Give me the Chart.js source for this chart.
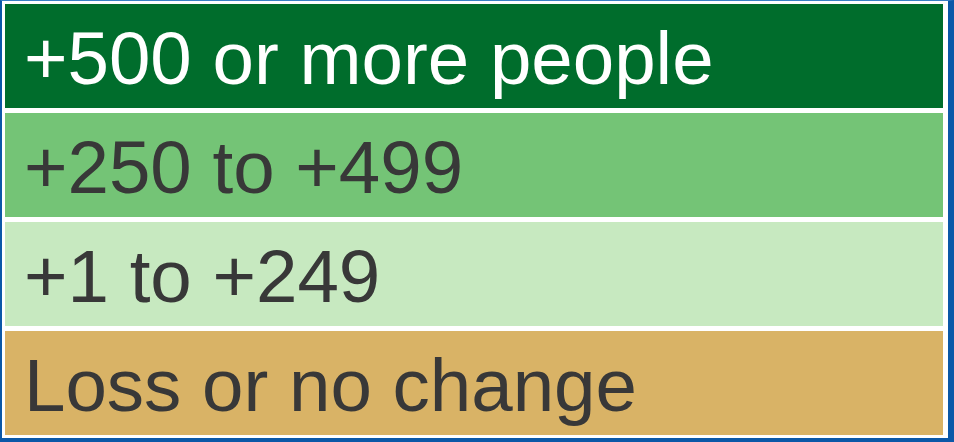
<!DOCTYPE html>
<html>
<head>
<meta charset="utf-8">
<script src="https://cdn.jsdelivr.net/npm/chart.js@4"></script>
<style>
  html, body { margin: 0; padding: 0; background: #fff; }
  #wrap { position: relative; width: 954px; height: 442px; }
  #frame {
    position: absolute; left: 0; top: 0; width: 954px; height: 442px;
    box-sizing: border-box; pointer-events: none;
    border-left: 2px solid #0b58a8; border-top: 1px solid #3a7fc4;
    border-right: 6px solid #0b58a8; border-bottom: 4px solid #0b58a8;
  }
</style>
</head>
<body>
<div id="wrap">
  <canvas id="legendChart" width="954" height="442"></canvas>
  <div id="frame"></div>
</div>
<script>
const categories = ['+500 or more people', '+250 to +499', '+1 to +249', 'Loss or no change'];
const values = [1, 1, 1, 1];
const fillColors = ['#006d2c', '#74c476', '#c7e9c0', '#d9b366'];
const textColors = ['#ffffff', '#383838', '#383838', '#383838'];

// writes each category name inside its bar
const rowLabels = {
    id: 'rowLabels',
    afterDatasetsDraw(chart) {
        const ctx = chart.ctx;
        const meta = chart.getDatasetMeta(0);
        ctx.save();
        ctx.font = '74.5px "Liberation Sans", Arial, sans-serif';
        ctx.textBaseline = 'alphabetic';
        ctx.textAlign = 'left';
        meta.data.forEach((bar, i) => {
            ctx.fillStyle = textColors[i];
            ctx.fillText(categories[i], chart.chartArea.left + 19, bar.y + 28);
        });
        ctx.restore();
    }
};

const ctx = document.getElementById('legendChart').getContext('2d');
new Chart(ctx, {
    type: 'bar',
    data: {
        labels: categories,
        datasets: [{
            data: values,
            backgroundColor: fillColors,
            borderWidth: 0,
            barPercentage: 1,
            categoryPercentage: 104 / 109
        }]
    },
    options: {
        indexAxis: 'y',
        responsive: false,
        animation: false,
        layout: { padding: { left: 5, right: 11, top: 1.5, bottom: 4.5 } },
        plugins: {
            legend: { display: false },
            tooltip: { enabled: false },
            title: { display: false }
        },
        scales: {
            x: { display: false, min: 0, max: 1 },
            y: { display: false }
        }
    },
    plugins: [rowLabels]
});
</script>
</body>
</html>
